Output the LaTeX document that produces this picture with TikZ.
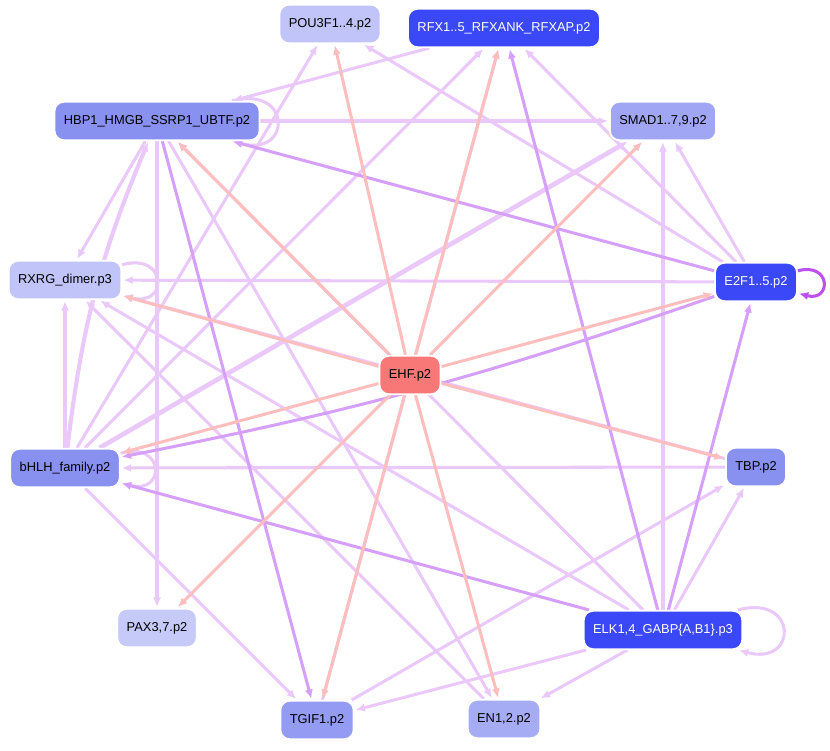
\documentclass[tikz,border=0pt]{standalone}
\usepackage{fontspec}
\setmainfont{Liberation Sans}
\usetikzlibrary{arrows.meta,positioning,calc,backgrounds}
\definecolor{tfblue}{RGB}{58,72,248}
\definecolor{tfmid}{RGB}{136,144,240}
\definecolor{tflight}{RGB}{192,196,248}
\definecolor{tfred}{RGB}{248,120,120}
\definecolor{pinkedge}{RGB}{255,190,190}
\definecolor{lavedge}{RGB}{234,200,250}
\definecolor{purpedge}{RGB}{214,160,250}
\definecolor{loopedge}{RGB}{190,80,240}

\begin{document}
\begin{tikzpicture}[
    x=0.03cm, y=-0.03cm,
    tf/.style={rectangle, draw=white, line width=1.5pt, rounded corners=8pt, minimum height=1.15cm, inner xsep=8pt, align=center, font=\fontsize{11}{13}\selectfont},
    hub/.style={tf, fill=tfblue, text=white},
    pk/.style={-{Latex[length=8pt,width=7pt]}, draw=pinkedge, line width=2.6pt, shorten >=1pt},
    lv/.style={-{Latex[length=8pt,width=7pt]}, draw=lavedge, line width=2.6pt, shorten >=1pt},
    pu/.style={-{Latex[length=8pt,width=7pt]}, draw=purpedge, line width=2.6pt, shorten >=1pt},
    selfloop/.style={out=15, in=-15, looseness=4, min distance=0.6cm}
]
    \useasboundingbox (0,0) rectangle (830,751);

    \node[tf, fill=tflight] (pou) at (330,24) {POU3F1..4.p2};
    \node[hub] (rfx) at (504,28) {RFX1..5\_RFXANK\_RFXAP.p2};
    \node[tf, fill=tfmid] (hbp) at (157,121) {HBP1\_HMGB\_SSRP1\_UBTF.p2};
    \node[tf, fill=tfmid!80] (smad) at (663,121) {SMAD1..7,9.p2};
    \node[tf, fill=tflight] (rxrg) at (65,280) {RXRG\_dimer.p3};
    \node[hub] (e2f) at (756,282) {E2F1..5.p2};
    \node[tf, fill=tfred] (ehf) at (410,375) {EHF.p2};
    \node[tf, fill=tfmid] (bhlh) at (65,468) {bHLH\_family.p2};
    \node[tf, fill=tfmid] (tbp) at (756,467) {TBP.p2};
    \node[tf, fill=tflight!90] (pax) at (157,628) {PAX3,7.p2};
    \node[hub] (elk) at (663,630) {ELK1,4\_GABP\{A,B1\}.p3};
    \node[tf, fill=tfmid!90] (tgif) at (317,720) {TGIF1.p2};
    \node[tf, fill=tfmid!75] (en) at (504,719) {EN1,2.p2};

    \begin{scope}[on background layer]
    % lavender edges
    \draw[lv] (rfx) -- (hbp);
    \draw[lv] (hbp) -- (rxrg);
    \draw[lv] (hbp) -- (pax);
    \draw[lv] (hbp) -- (en);
    \draw[lv] (hbp) -- (smad);
    \draw[lv] (e2f) -- (pou);
    \draw[lv] (e2f) -- (rfx);
    \draw[lv] (e2f) -- (smad);
    \draw[lv] (e2f) -- (rxrg);
    \draw[lv] (elk) -- (smad);
    \draw[lv] (elk) -- (tbp);
    \draw[lv] (elk) -- (en);
    \draw[lv] (elk) -- (tgif);
    \draw[lv] (elk) -- (rxrg);
    \draw[lv] (elk) -- (hbp);
    \draw[lv] (bhlh) -- (rxrg);
    \draw[lv] (bhlh) -- (rfx);
    \draw[lv] (bhlh) -- (pou);
    \draw[lv] (bhlh) -- (tgif);
    \draw[lv] (tbp) -- (bhlh);
    \draw[lv] (tbp) -- (rxrg);
    \draw[lv] (en) -- (rxrg);
    \draw[lv] (tgif) -- (rfx);
    \draw[lv] (tgif) -- (tbp);
    \draw[lv, line width=4pt] (bhlh) -- (smad);
    \draw[lv, line width=3.5pt] (bhlh) to[bend left=8] (hbp);
    \path (hbp) edge[lv, selfloop] (hbp);
    \path (rxrg) edge[lv, selfloop] (rxrg);
    \path (bhlh) edge[lv, selfloop] (bhlh);
    \path (elk) edge[lv, selfloop] (elk);

    % purple edges
    \draw[pu] (hbp) -- (tgif);
    \draw[pu] (elk) -- (bhlh);
    \draw[pu] (elk) -- (e2f);
    \draw[pu] (elk) -- (rfx);
    \draw[pu] (e2f) -- (hbp);
    \draw[pu] (e2f) to[bend left=4] (bhlh);
    \path (e2f) edge[pu, draw=loopedge, selfloop] (e2f);

    % pink edges
    \foreach \t in {pou, rfx, smad, e2f, rxrg, hbp, bhlh, tbp, pax, tgif, en}
        \draw[pk] (ehf) -- (\t);
    \end{scope}
\end{tikzpicture}
\end{document}
